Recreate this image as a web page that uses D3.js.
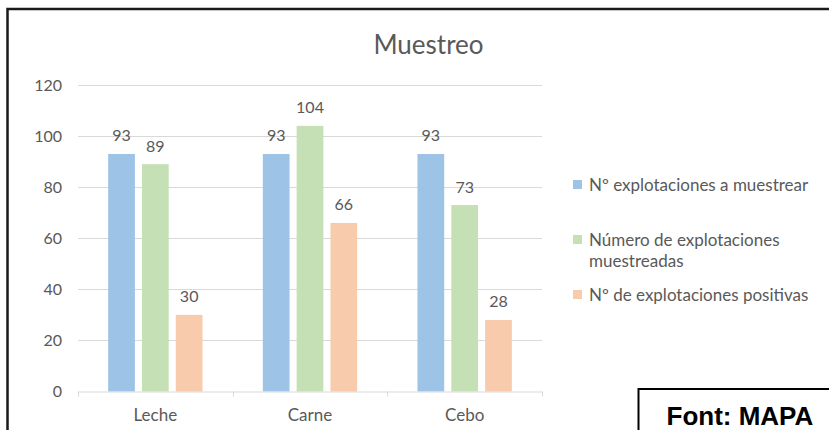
<!DOCTYPE html>
<html>
<head>
<meta charset="utf-8">
<script src="https://cdn.jsdelivr.net/npm/d3@7/dist/d3.min.js"></script>
<style>
  html, body { margin: 0; padding: 0; background: #fff; }
  svg { display: block; }
</style>
</head>
<body>
<svg id="chart" width="829" height="430"></svg>
<script>
// ---- Data ----
const categories = ["Leche", "Carne", "Cebo"];
const seriesNames = [
  "Nº explotaciones a muestrear",
  "Número de explotaciones muestreadas",
  "Nº de explotaciones positivas"
];
const aMuestrear = [93, 93, 93];
const muestreadas = [89, 104, 73];
const positivas = [30, 66, 28];
const yTicks = [0, 20, 40, 60, 80, 100, 120];
const titleText = "Muestreo";
const sourceText = "Font: MAPA";
const legendLines = [
  ["Nº explotaciones a muestrear"],
  ["Número de explotaciones", "muestreadas"],
  ["Nº de explotaciones positivas"]
];

const seriesValues = [aMuestrear, muestreadas, positivas];
const colors = ["#9DC3E6", "#C5E0B4", "#F8CBAD"];
const textColor = "#595959";
const gridColor = "#d9d9d9";
const font = "Lato, 'Open Sans', sans-serif";

const svg = d3.select("#chart");

// Outer frame
svg.append("rect").attr("x", 7.5).attr("y", 9).attr("width", 900).attr("height", 500)
  .attr("fill", "#fff").attr("stroke", "#1a1a1a").attr("stroke-width", 2.5);

// Scales
const plotLeft = 78, plotRight = 542, plotTop = 85, plotBottom = 391.5;
const pIn = 0.39, pOut = 0.195;
const x0 = d3.scaleBand().domain(categories).range([plotLeft, plotRight])
  .paddingInner(pIn).paddingOuter(pOut);
const x1 = d3.scaleBand().domain(d3.range(seriesNames.length)).range([0, x0.bandwidth()])
  .paddingInner(0.21);
const y = d3.scaleLinear().domain([0, 120]).range([plotBottom, plotTop]);

// Gridlines
svg.append("g").selectAll("line").data(yTicks.filter(d => d > 0)).join("line")
  .attr("x1", plotLeft).attr("x2", plotRight)
  .attr("y1", d => Math.round(y(d)) + 0.5).attr("y2", d => Math.round(y(d)) + 0.5)
  .attr("stroke", gridColor).attr("stroke-width", 1);

// Y axis labels
const yAxis = svg.append("g").attr("transform", `translate(${plotLeft},0)`)
  .call(d3.axisLeft(y).tickValues(yTicks).tickSize(0).tickPadding(16));
yAxis.select(".domain").remove();
yAxis.selectAll("text").attr("font-family", font).attr("font-size", 16).attr("fill", textColor);

// Bars
const groups = svg.append("g").selectAll("g").data(categories).join("g")
  .attr("transform", d => `translate(${x0(d)},0)`);
groups.selectAll("rect").data((c, ci) => seriesValues.map((s, si) => ({ si, v: s[ci] })))
  .join("rect")
  .attr("x", d => x1(d.si)).attr("width", x1.bandwidth())
  .attr("y", d => y(d.v)).attr("height", d => y(0) - y(d.v))
  .attr("fill", d => colors[d.si]);
groups.selectAll("text").data((c, ci) => seriesValues.map((s, si) => ({ si, v: s[ci] })))
  .join("text")
  .attr("x", d => x1(d.si) + x1.bandwidth() / 2).attr("y", d => y(d.v) - 12.5)
  .attr("text-anchor", "middle").attr("font-family", font).attr("font-size", 16)
  .attr("fill", textColor).text(d => d.v);

// X axis
const xAxis = svg.append("g").attr("transform", `translate(0,${plotBottom})`)
  .call(d3.axisBottom(x0).tickSize(0).tickPadding(17.5));
xAxis.select(".domain").attr("stroke", gridColor);
xAxis.selectAll("text").attr("font-family", font).attr("font-size", 17).attr("fill", textColor);
const boundaries = categories.map(c => x0(c) - x0.step() * pOut).concat([plotRight]);
svg.append("g").selectAll("line").data(boundaries).join("line")
  .attr("x1", d => Math.round(d) + 0.5).attr("x2", d => Math.round(d) + 0.5)
  .attr("y1", plotBottom).attr("y2", plotBottom + 5)
  .attr("stroke", gridColor);

// Title
svg.append("text").attr("x", 428.5).attr("y", 54).attr("text-anchor", "middle")
  .attr("font-family", font).attr("font-size", 26).attr("fill", textColor).text(titleText);

// Legend
const legendY = [180, 235, 290];
const leg = svg.append("g").selectAll("g").data(legendLines).join("g");
leg.append("rect").attr("x", 573).attr("y", (d, i) => legendY[i]).attr("width", 9).attr("height", 9)
  .attr("fill", (d, i) => colors[i]);
leg.append("text").attr("font-family", font).attr("font-size", 17).attr("fill", textColor)
  .attr("x", 589).attr("y", (d, i) => legendY[i] + 10.5)
  .selectAll("tspan").data(d => d).join("tspan")
  .attr("x", 589).attr("dy", (d, j) => j === 0 ? 0 : 21).text(d => d);

// Source box
svg.append("rect").attr("x", 638.5).attr("y", 389).attr("width", 300).attr("height", 100)
  .attr("fill", "#fff").attr("stroke", "#000").attr("stroke-width", 2);
svg.append("text").attr("x", 666.5).attr("y", 425)
  .attr("font-family", "'Liberation Sans', Arial, sans-serif").attr("font-weight", "bold")
  .attr("font-size", 26).attr("fill", "#000").text(sourceText);
</script>
</body>
</html>
